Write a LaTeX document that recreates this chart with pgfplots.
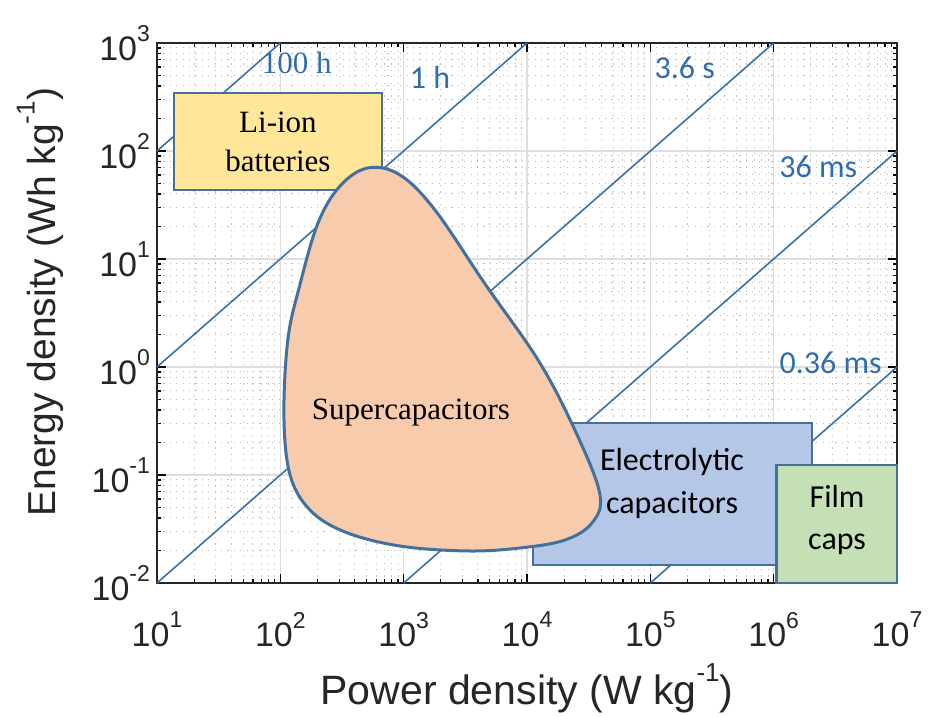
\documentclass[border=0pt]{standalone}
\usepackage{fontspec}
\setmainfont{Liberation Sans}
\newfontfamily\calib{Carlito}
\newfontfamily\tnr{Liberation Serif}
\usepackage{pgfplots}
\pgfplotsset{compat=1.18}

\definecolor{tline}{HTML}{3A72A8}
\definecolor{tlabel}{HTML}{2F6EAA}
\definecolor{edge}{HTML}{41719C}
\definecolor{liion}{HTML}{FFE699}
\definecolor{scap}{HTML}{F8CBAD}
\definecolor{elcap}{HTML}{B4C7E7}
\definecolor{film}{HTML}{C5E0B4}

% power of ten as MATLAB sets it
\newcommand\pt[1]{10\raisebox{0.55em}{\fontsize{11.5}{11.5}\selectfont#1}}
\newcommand\sps[1]{\raisebox{0.55em}{\fontsize{13}{13}\selectfont#1}}

\begin{document}
\begin{tikzpicture}
\begin{axis}[name=ax,
  xmode=log, ymode=log,
  scale only axis, width=370pt, height=270pt,
  xmin=10, xmax=1e7, ymin=1e-2, ymax=1e3,
  xtick={1e1,1e2,1e3,1e4,1e5,1e6,1e7},
  xticklabels={\pt{1},\pt{2},\pt{3},\pt{4},\pt{5},\pt{6},\pt{7}},
  ytick={1e-2,1e-1,1,1e1,1e2,1e3},
  yticklabels={\pt{-2},\pt{-1},\pt{0},\pt{1},\pt{2},\pt{3}},
  ticklabel style={font=\fontsize{17}{19}\selectfont, text=black!85},
  xticklabel style={yshift=-11pt},
  tick align=inside, tick pos=both,
  major tick length=4.5pt, minor tick length=2pt,
  every tick/.style={black, line width=0.6pt},
  axis line style={black!85, line width=1pt},
  grid=both,
  major grid style={black!13, line width=0.6pt},
  minor grid style={black!25, dash pattern=on 0.6pt off 2.6pt, line width=0.5pt},
  xlabel={Power density (W kg\sps{-1})},
  ylabel={Energy density (Wh kg\sps{-1})},
  xlabel style={at={(axis description cs:0.5,-0.137)}, anchor=north, font=\fontsize{20.5}{23}\selectfont},
  ylabel style={at={(axis description cs:-0.116,0.52)}, anchor=south, font=\fontsize{19.5}{22}\selectfont},
  label style={text=black!85},
  clip=false,
]
% constant discharge-time lines
\addplot[tline, line width=0.8pt] coordinates {(10,100) (100,1000)};
\addplot[tline, line width=0.8pt] coordinates {(10,1) (1e4,1000)};
\addplot[tline, line width=0.8pt] coordinates {(10,0.01) (1e6,1000)};
\addplot[tline, line width=0.8pt] coordinates {(1e3,0.01) (1e7,100)};
\addplot[tline, line width=0.8pt] coordinates {(1e5,0.01) (1e7,1)};

% Li-ion batteries
\addplot[fill=liion, draw=edge, line width=1.3pt] coordinates {(13.7,43.6) (667,43.6) (667,344) (13.7,344)} -- cycle;
% Electrolytic capacitors
\addplot[fill=elcap, draw=edge, line width=1.3pt] coordinates {(11200,0.0147) (2.05e6,0.0147) (2.05e6,0.303) (11200,0.303)} -- cycle;
% Film caps
\addplot[fill=film, draw=edge, line width=1.3pt] coordinates {(1.06e6,0.01) (1e7,0.01) (1e7,0.124) (1.06e6,0.124)} -- cycle;
% Supercapacitors
\addplot[fill=scap, draw=edge, line width=1.5pt, smooth cycle, tension=0.6] coordinates {
 (514,69.7) (933,60.0) (1795,28.4) (4571,5.87) (12735,1.089) (25940,0.225)
 (39080,0.0653) (33650,0.0360) (20320,0.0250) (8770,0.0211) (3266,0.0198)
 (933,0.0220) (334,0.0297) (174,0.0474) (120,0.1) (107,0.344) (115,1.78)
 (144,5.74) (202,21.5) (305,47.4)};

% region labels
\node[align=center, font=\fontsize{15.5}{19.5}\selectfont] at (axis cs:95.7,121) {\tnr Li-ion\\\tnr batteries};
\node[font=\tnr\fontsize{15.5}{19.5}\selectfont] at (axis cs:1146,0.375) {Supercapacitors};
\node[align=center, font=\fontsize{16}{21.5}\selectfont] at (axis cs:1.5e5,0.0843) {\calib Electrolytic\\\calib capacitors};
\node[align=center, font=\fontsize{16}{21}\selectfont] at (axis cs:3.27e6,0.0383) {\calib Film\\\calib caps};

% time labels
\node[font=\tnr\fontsize{15.5}{18}\selectfont, text=tlabel] at (axis cs:136,661) {100 h};
\node[font=\calib\fontsize{16}{18}\selectfont, text=tlabel] at (axis cs:1637,484) {1 h};
\node[font=\calib\fontsize{16}{18}\selectfont, text=tlabel] at (axis cs:1.9e5,589) {3.6 s};
\node[font=\calib\fontsize{16}{18}\selectfont, text=tlabel] at (axis cs:2.3e6,70.8) {36 ms};
\node[font=\calib\fontsize{16}{18}\selectfont, text=tlabel] at (axis cs:2.9e6,1.09) {0.36 ms};
\end{axis}
\pgfresetboundingbox
\path (ax.south west) ++(-78.5pt,-67pt) rectangle ++(464pt,358.5pt);
\end{tikzpicture}
\end{document}
